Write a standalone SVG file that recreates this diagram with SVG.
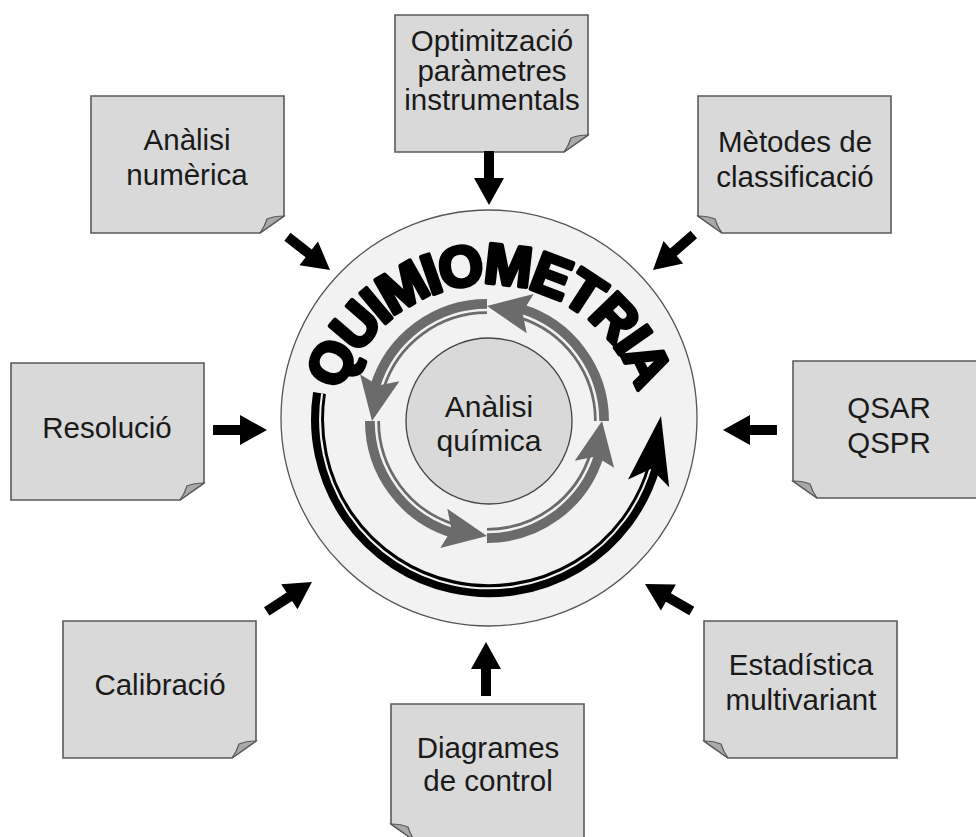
<svg xmlns="http://www.w3.org/2000/svg" xmlns:xlink="http://www.w3.org/1999/xlink" width="976" height="837" viewBox="0 0 976 837">
<style>
.box{fill:#d9d9d9;stroke:#5a5a5a;stroke-width:1.6}
.fold{fill:#a9a9a9;stroke:#5a5a5a;stroke-width:1.2}
.lbl{font-family:"Liberation Sans",Arial,sans-serif;font-size:29.5px;fill:#1a1a1a;text-anchor:middle}
.blk{fill:#000}
.g{fill:none;stroke:#6b6b6b;stroke-width:15}
.w{fill:none;stroke:#f2f2f2;stroke-width:2.5}
.gh{fill:#6b6b6b}
</style>
<defs>
<path id="arr" d="M0,0 L-27,-15 L-27,-5 L-54,-5 L-54,5 L-27,5 L-27,15 Z"/>
<path id="boxR" class="box" d="M0,0 H193 V120 L169,137 H0 Z"/>
<path id="foldR" class="fold" d="M193,120 Q183,120 176,123 Q174,130 169,137 Z"/>
<path id="boxL" class="box" d="M0,0 H193 V137 H24 L0,120 Z"/>
<path id="foldL" class="fold" d="M0,120 Q10,120 17,123 Q19,130 24,137 Z"/>
<path id="tp" d="M333,440 A156,156 0 0 1 645,440"/>
</defs>
<rect width="976" height="837" fill="#fff"/>

<g id="center">
<circle cx="489" cy="418" r="208" fill="#f2f2f2" stroke="#555" stroke-width="1.3"/>
<circle cx="489" cy="421" r="83" fill="#d9d9d9" stroke="#444" stroke-width="1.3"/>
<path class="g" d="M601.5,421 A114.5,114.5 0 0 0 520.5,311.5"/>
<path class="w" d="M598,421 A111,111 0 0 0 519.5,314.8"/>
<path class="gh" d="M487,306 L533.7,293.9 L522.4,312.2 L526.7,333.3 Z"/>
<path class="g" d="M487,306.5 A114.5,114.5 0 0 0 377.5,387.5"/>
<path class="w" d="M487,310 A111,111 0 0 0 380.9,388.5"/>
<path class="gh" d="M372,421 L360,374.3 L378.3,385.6 L399.4,381.3 Z"/>
<path class="g" d="M372.5,421 A114.5,114.5 0 0 0 453.5,530.5"/>
<path class="w" d="M376,421 A111,111 0 0 0 454.5,527.1"/>
<path class="gh" d="M487,536 L440.3,548.1 L451.6,529.8 L447.3,508.7 Z"/>
<path class="g" d="M487,535.5 A114.5,114.5 0 0 0 596.5,454.5"/>
<path class="w" d="M487,532 A111,111 0 0 0 593.2,453.5"/>
<path class="gh" d="M602,421 L614.1,467.7 L595.8,456.4 L574.7,460.7 Z"/>
<path fill="none" stroke="#000" stroke-width="13" d="M319.5,393.1 A171.5,171.5 0 0 0 653.9,466.3"/>
<path fill="none" stroke="#f2f2f2" stroke-width="2" d="M322.1,393.5 A168.8,168.8 0 0 0 651.3,465.5"/>
<path class="blk" d="M661,416 L669.2,487.2 L651.3,468.7 L628,479.6 Z"/>
<text font-family="'Liberation Sans',Arial,sans-serif" font-weight="bold" font-size="57" fill="#000" stroke="#000" stroke-width="4" stroke-linejoin="round"><textPath xlink:href="#tp" href="#tp" startOffset="50%" text-anchor="middle" textLength="392" lengthAdjust="spacing">QUIMIOMETRIA</textPath></text>
<text class="lbl" x="489" y="417" style="font-size:30px">Anàlisi</text>
<text class="lbl" x="489" y="451" style="font-size:30px">química</text>
</g>

<g id="opt" transform="translate(395,15)"><use href="#boxR"/><use href="#foldR"/>
<text class="lbl" x="97" y="36">Optimització</text><text class="lbl" x="97" y="65.5">paràmetres</text><text class="lbl" x="97" y="95">instrumentals</text></g>
<g id="num" transform="translate(91,96)"><use href="#boxR"/><use href="#foldR"/>
<text class="lbl" x="96" y="54">Anàlisi</text><text class="lbl" x="96" y="89">numèrica</text></g>
<g id="met" transform="translate(698,96)"><use href="#boxL"/><use href="#foldL"/>
<text class="lbl" x="97" y="56">Mètodes de</text><text class="lbl" x="97" y="91">classificació</text></g>
<g id="res" transform="translate(11,363)"><use href="#boxR"/><use href="#foldR"/>
<text class="lbl" x="96" y="75">Resolució</text></g>
<g id="qsar" transform="translate(793,361)"><use href="#boxL"/><use href="#foldL"/>
<text class="lbl" x="96" y="57">QSAR</text><text class="lbl" x="96" y="92">QSPR</text></g>
<g id="cal" transform="translate(63,621)"><use href="#boxR"/><use href="#foldR"/>
<text class="lbl" x="97" y="74">Calibració</text></g>
<g id="est" transform="translate(704,621)"><use href="#boxL"/><use href="#foldL"/>
<text class="lbl" x="97" y="54">Estadística</text><text class="lbl" x="97" y="89">multivariant</text></g>
<g id="dia" transform="translate(391,704)"><use href="#boxL"/><use href="#foldL"/>
<text class="lbl" x="97" y="54">Diagrames</text><text class="lbl" x="97" y="87">de control</text></g>

<g id="connectors" class="blk">
<use href="#arr" transform="translate(489,205) rotate(90)"/>
<use href="#arr" transform="translate(486,642) rotate(-90)"/>
<use href="#arr" transform="translate(267,430)"/>
<use href="#arr" transform="translate(723,430) rotate(180)"/>
<use href="#arr" transform="translate(330,270) rotate(38)"/>
<use href="#arr" transform="translate(653,270) rotate(139)"/>
<use href="#arr" transform="translate(312,582) rotate(-33)"/>
<use href="#arr" transform="translate(645,584) rotate(-150)"/>
</g>
</svg>
